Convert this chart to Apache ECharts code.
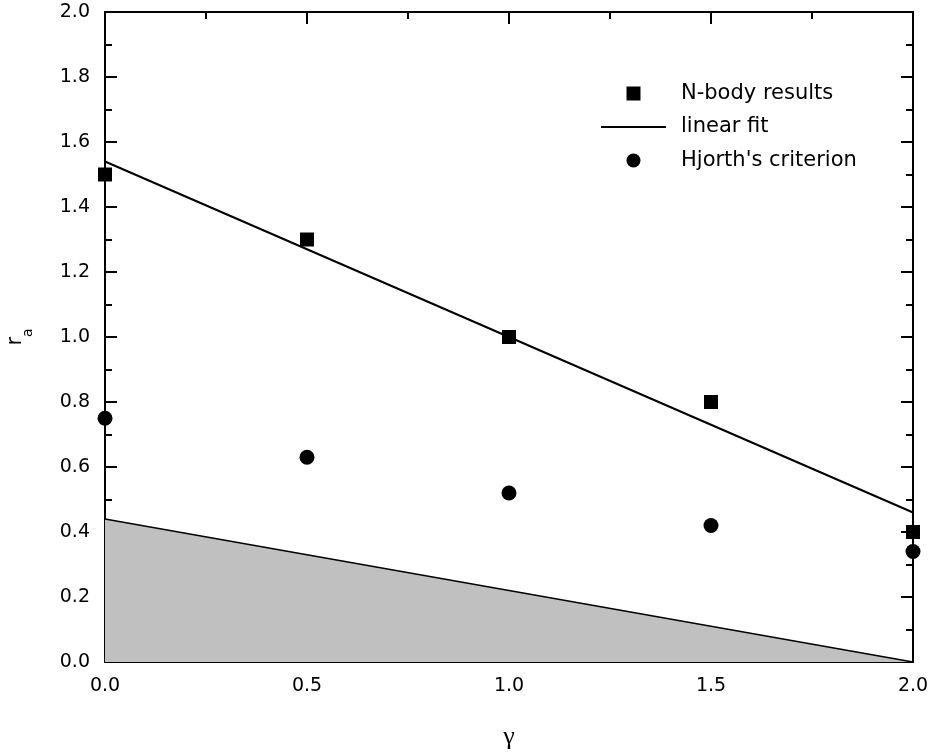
<!DOCTYPE html>
<html>
<head>
<meta charset="utf-8">
<script src="https://cdn.jsdelivr.net/npm/echarts@6/dist/echarts.min.js"></script>
<style>html,body{margin:0;padding:0;background:#fff}#c{width:935px;height:755px}</style>
</head>
<body>
<div id="c"></div>
<script>
var gammaValues = [0.0, 0.5, 1.0, 1.5, 2.0];
var nbodyResults = [1.50, 1.30, 1.00, 0.80, 0.40];
var hjorthCriterion = [0.75, 0.63, 0.52, 0.42, 0.34];
var fitX = [0.0, 2.0];
var fitY = [1.54, 0.46];
var shadedX = [0.0, 2.0];
var shadedY = [0.44, 0.0];

function pairs(xs, ys) { return xs.map(function (x, i) { return [x, ys[i]]; }); }

var FONT = 'DejaVu Sans';
var chart = echarts.init(document.getElementById('c'), null, {renderer: 'canvas'});
var axisCommon = {
  type: 'value', min: 0, max: 2,
  axisLine: {show: true, onZero: false, lineStyle: {color: '#000', width: 2}},
  axisTick: {show: true, inside: true, length: 12, lineStyle: {color: '#000', width: 2}},
  minorTick: {show: true, splitNumber: 2, length: 7, lineStyle: {color: '#000', width: 2}},
  splitLine: {show: false}
};
chart.setOption({
  animation: false,
  grid: {left: 105, right: 22, top: 12, bottom: 93, containLabel: false, outerBoundsMode: 'none'},
  legend: {
    orient: 'vertical', left: 600, top: 83, padding: 0,
    itemWidth: 65, itemHeight: 14, itemGap: 12.5, symbolKeepAspect: true,
    textStyle: {fontFamily: FONT, fontSize: 21, color: '#000', lineHeight: 20, padding: [0, 0, 0, 10]},
    data: [
      {name: 'N-body results', icon: 'path://M0,0H10V10H0Z'},
      {name: 'linear fit', itemStyle: {color: 'rgba(0,0,0,0)', opacity: 0, borderWidth: 0}},
      {name: "Hjorth's criterion", icon: 'circle'}
    ]
  },
  graphic: [
    {
      type: 'text', x: 20, y: 337, rotation: Math.PI / 2,
      style: {
        text: '{r|r}{a|a}', align: 'center', verticalAlign: 'middle',
        rich: {
          r: {fontFamily: FONT, fontSize: 21, lineHeight: 22, verticalAlign: 'top', fill: '#000', color: '#000'},
          a: {fontFamily: FONT, fontSize: 14, lineHeight: 30, verticalAlign: 'bottom', fill: '#000', color: '#000'}
        }
      }
    }
  ],
  xAxis: [
    Object.assign({}, axisCommon, {
      position: 'bottom', interval: 0.5,
      axisLabel: {show: true, margin: 15, fontFamily: FONT, fontSize: 19, color: '#000', formatter: function (v) { return v.toFixed(1); }},
      name: 'γ', nameLocation: 'middle', nameGap: 62,
      nameTextStyle: {fontFamily: 'Liberation Serif', fontSize: 26, color: '#000'}
    }),
    Object.assign({}, axisCommon, {
      position: 'top', interval: 0.5, axisLabel: {show: false}
    })
  ],
  yAxis: [
    Object.assign({}, axisCommon, {
      position: 'left', interval: 0.2,
      axisLabel: {show: true, margin: 15, fontFamily: FONT, fontSize: 19, color: '#000', formatter: function (v) { return v.toFixed(1); }}
    }),
    Object.assign({}, axisCommon, {
      position: 'right', interval: 0.2, axisLabel: {show: false}
    })
  ],
  series: [
    {
      name: 'shaded', type: 'line', xAxisIndex: 0, yAxisIndex: 0,
      data: pairs(shadedX, shadedY), symbol: 'none', z: 1,
      lineStyle: {color: '#000', width: 1.3},
      areaStyle: {color: '#c0c0c0', opacity: 1}
    },
    {
      name: 'linear fit', type: 'line', xAxisIndex: 0, yAxisIndex: 0,
      data: pairs(fitX, fitY), symbol: 'none', z: 3,
      lineStyle: {color: '#000', width: 2}, itemStyle: {color: '#000'}
    },
    {
      name: 'N-body results', type: 'scatter', xAxisIndex: 0, yAxisIndex: 0,
      data: pairs(gammaValues, nbodyResults), symbol: 'rect', symbolSize: 14, z: 4,
      itemStyle: {color: '#000', opacity: 1}, clip: false
    },
    {
      name: "Hjorth's criterion", type: 'scatter', xAxisIndex: 0, yAxisIndex: 0,
      data: pairs(gammaValues, hjorthCriterion), symbol: 'circle', symbolSize: 15, z: 4,
      itemStyle: {color: '#000', opacity: 1}, clip: false
    }
  ]
});
</script>
</body>
</html>
